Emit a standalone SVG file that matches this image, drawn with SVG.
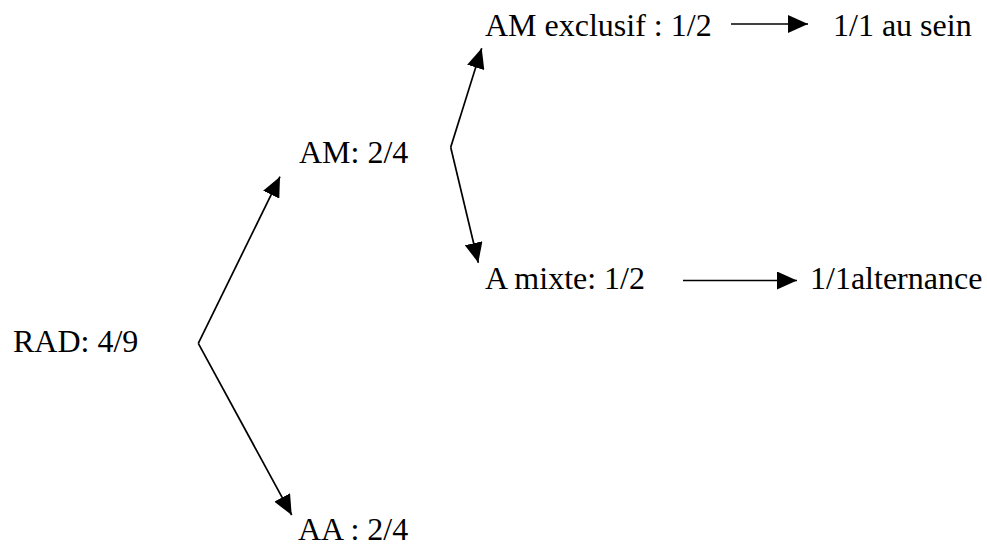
<svg xmlns="http://www.w3.org/2000/svg" width="987" height="547" viewBox="0 0 987 547">
<defs>
<marker id="ah" markerUnits="userSpaceOnUse" markerWidth="20" markerHeight="18" refX="20" refY="9" orient="auto" viewBox="0 0 20 18">
<path d="M0,0 L20,9 L0,18 Z" fill="#000"/>
</marker>
<style>
text{font-family:"Liberation Serif","Times New Roman",serif;font-size:32px;fill:#000}
.c{fill:none;stroke:#000;stroke-width:1.7;marker-end:url(#ah)}
</style>
</defs>
<rect width="987" height="547" fill="#fff"/>
<g id="connectors">
<path class="c" d="M198.3,343.3 L280,176.7"/>
<path class="c" d="M198.3,343.3 L291.7,515"/>
<path class="c" d="M450.7,147.3 L481.7,48.3"/>
<path class="c" d="M450.7,147.3 L478.3,262.7"/>
<path class="c" d="M731,24 L808,24"/>
<path class="c" d="M683,280.5 L797,280.5"/>
</g>
<g id="n-rad"><text x="13" y="352">RAD: 4/9</text></g>
<g id="n-am"><text x="299" y="163">AM: 2/4</text></g>
<g id="n-aa"><text x="298" y="540">AA : 2/4</text></g>
<g id="n-amex"><text x="485" y="36">AM exclusif : 1/2</text></g>
<g id="n-mixte"><text x="485" y="289">A mixte: 1/2</text></g>
<g id="n-sein"><text x="833" y="36">1/1 au sein</text></g>
<g id="n-alt"><text x="810" y="289">1/1alternance</text></g>
</svg>
